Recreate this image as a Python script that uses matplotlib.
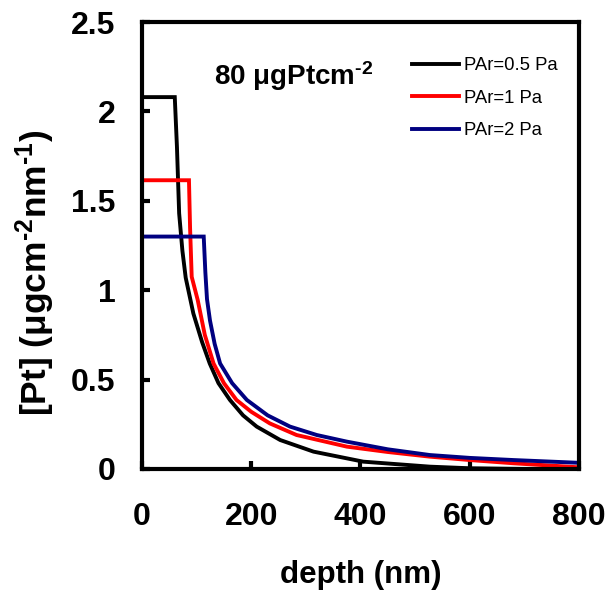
import matplotlib
matplotlib.use("Agg")
import matplotlib.pyplot as plt

plt.rcParams['font.family'] = ['Liberation Sans', 'DejaVu Sans']
plt.rcParams['mathtext.fontset'] = 'custom'
plt.rcParams['mathtext.rm'] = 'Liberation Sans:bold'
plt.rcParams['mathtext.bf'] = 'Liberation Sans:bold'
plt.rcParams['mathtext.default'] = 'bf'

# depth profiles (depth in nm, [Pt] in ugcm-2nm-1)
depth_05 = [0, 60, 64, 68, 74, 80, 94, 110, 124, 140, 161, 185, 210, 253, 314, 405, 527, 600, 700, 800]
pt_05 = [2.08, 2.08, 1.80, 1.43, 1.22, 1.07, 0.87, 0.71, 0.59, 0.48, 0.386, 0.30, 0.237, 0.162, 0.097, 0.041, 0.013, 0.004, 0.0, 0.0]

depth_1 = [0, 86, 88, 91, 102, 115, 131, 150, 173, 200, 234, 283, 375, 450, 527, 600, 680, 796, 800]
pt_1 = [1.615, 1.615, 1.35, 1.075, 0.945, 0.75, 0.59, 0.48, 0.386, 0.32, 0.255, 0.19, 0.125, 0.095, 0.069, 0.05, 0.032, 0.01, 0.008]

depth_2 = [0, 113, 116, 119, 124.5, 133, 143, 165, 192, 230, 271, 320, 375, 450, 527, 600, 680, 796, 800]
pt_2 = [1.30, 1.30, 1.10, 0.95, 0.83, 0.70, 0.59, 0.48, 0.386, 0.30, 0.237, 0.19, 0.153, 0.11, 0.078, 0.062, 0.05, 0.035, 0.035]

labels = ['PAr=0.5 Pa', 'PAr=1 Pa', 'PAr=2 Pa']
colors = ['black', '#ff0000', '#000080']

x_ticks = [0, 200, 400, 600, 800]
y_ticks = [0, 0.5, 1, 1.5, 2, 2.5]
y_tick_labels = ['0', '0.5', '1', '1.5', '2', '2.5']

fig = plt.figure(figsize=(6.11, 5.92), dpi=100)
ax = fig.add_axes([0.2324, 0.2078, 0.7152, 0.7550])

for d, v, lab, c in zip([depth_05, depth_1, depth_2], [pt_05, pt_1, pt_2], labels, colors):
    ax.plot(d, v, color=c, lw=2.8, label=lab, solid_joinstyle='miter')

ax.set_xlim(0, 800)
ax.set_ylim(0, 2.5)
ax.set_xticks(x_ticks)
ax.set_xticklabels([str(t) for t in x_ticks])
ax.set_yticks(y_ticks)
ax.set_yticklabels(y_tick_labels)

for s in ax.spines.values():
    s.set_linewidth(3)
ax.tick_params(direction='in', length=6, width=3, labelsize=23)
ax.tick_params(axis='x', pad=24)
ax.tick_params(axis='y', pad=19)
for t in ax.get_xticklabels() + ax.get_yticklabels():
    t.set_fontweight('bold')

ax.set_xlabel('depth (nm)', fontsize=22.5, fontweight='bold', labelpad=20)
ax.set_ylabel('[Pt] (μgcm$^{\\text{-2}}$nm$^{\\text{-1}}$)', fontsize=25.5, fontweight='bold')
ax.yaxis.set_label_coords(-0.195, 0.44)

ax.text(0.165, 0.859, '80 μgPtcm$^{\\text{-2}}$', transform=ax.transAxes, fontsize=20,
        fontweight='bold', va='baseline', ha='left')

ax.legend(loc='upper left', bbox_to_anchor=(0.618, 0.921), frameon=False, fontsize=13.3,
          handlelength=2.55, handletextpad=0.27, labelspacing=0.84, borderpad=0, borderaxespad=0)

fig.savefig('out.png', dpi=100)
